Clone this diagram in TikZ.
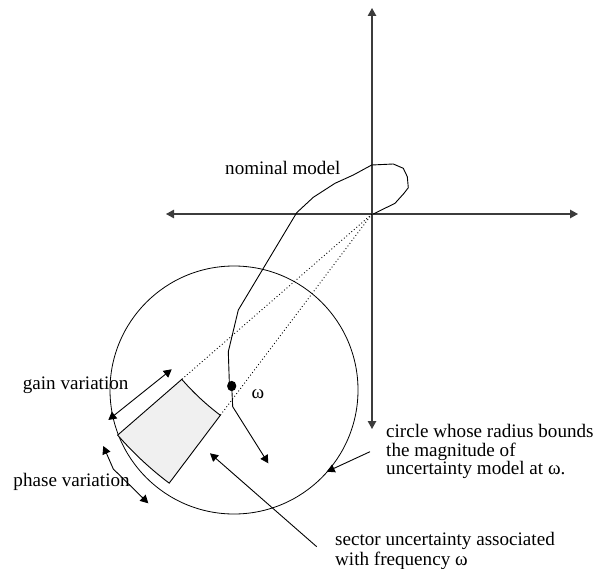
\documentclass[tikz,border=0pt]{standalone}
\usepackage{fontspec}
\setmainfont{Liberation Serif}
\usetikzlibrary{arrows.meta,calc}
\definecolor{sectorfill}{RGB}{240,240,240}
\definecolor{axiscol}{RGB}{60,60,60}
\begin{document}
\begin{tikzpicture}[x=1bp,y=-1bp,
  tip/.style={-{Triangle[length=8bp,width=8.5bp]}},
  dtip/.style={{Triangle[length=8bp,width=8.5bp]}-{Triangle[length=8bp,width=8.5bp]}},
  axisline/.style={draw=axiscol,line width=1.2bp,dtip},
  thin line/.style={draw=black,line width=0.9bp},
  label/.style={inner sep=0pt,font=\fontsize{19.1bp}{18.5bp}\selectfont},
  dotline/.style={draw=black,line width=0.9bp,dash pattern=on 0.9bp off 2.4bp}]
\useasboundingbox (0,0) rectangle (599,569);
% origin and axes
\coordinate (O) at (372,214);
\coordinate (xl) at (166,214);
\coordinate (xr) at (578,214);
\coordinate (yt) at (372,8);
\coordinate (yb) at (372,429);
\draw[axisline] (xl) -- (xr);
\draw[axisline] (yb) -- (yt);
% uncertainty circle
\coordinate (C) at (234,390);
\draw[line width=0.8bp] (C) circle[radius=124];
% sector uncertainty
\coordinate (sA) at ($(O)+(139:252)$);
\coordinate (sB) at ($(O)+(127:252)$);
\filldraw[fill=sectorfill,draw=black,line width=0.9bp]
  (sA) -- ($(O)+(139:337)$) arc[start angle=139,end angle=127,radius=337]
  -- (sB) arc[start angle=127,end angle=139,radius=252] -- cycle;
\draw[dotline] (O) -- (sA);
\draw[dotline] (O) -- (sB);
% nominal model curve
\coordinate (w) at (231.7,386);
\coordinate (cend) at (268.3,463.3);
\draw[thin line,line join=round,tip] (373.3,214) -- (395,203.3) -- (404,193.3) -- (408.3,187.7)
  -- (407.3,176.7) -- (403.3,168.3) -- (393.3,164) -- (371.7,165) -- (353.3,175)
  -- (335,183.3) -- (313.3,197.3) -- (296.7,212.7) -- (238.3,310) -- (228.3,351.7)
  -- (229.3,381.7) -- (w) -- (232.7,406.7) -- (cend);
\fill (w) ellipse[x radius=4.6,y radius=5.2];
% gain and phase variation arrows
\coordinate (g1) at (108.3,420);
\coordinate (g2) at (171.7,369.3);
\draw[thin line,dtip] (g1) -- (g2);
\coordinate (p1) at (103.3,446);
\coordinate (pk) at (113.3,469);
\coordinate (p2) at (148.3,503.3);
\draw[thin line,dtip] (p1) -- (pk) -- (p2);
% labels
\node[label,anchor=base west] (nom) at (225,175) {nominal model};
\node[label,anchor=base west] (gain) at (22.7,389) {gain variation};
\node[label,anchor=base west] (phase) at (13.3,486) {phase variation};
\node[label,anchor=base west] (om) at (251.5,398.3) {ω};
\node[label,anchor=north west,align=left] (circ) at (386,424.2)
  {circle whose radius bounds\\the magnitude of\\uncertainty model at ω.};
\node[label,anchor=north west,align=left,font=\fontsize{19.1bp}{20bp}\selectfont] (sect) at (335,532)
  {sector uncertainty associated\\with frequency ω};
% pointers
\coordinate (cp1) at (370,451.7);
\coordinate (cp2) at (326.7,471.7);
\draw[thin line,tip] (cp1) -- (cp2);
\coordinate (sp1) at (316.7,546.7);
\coordinate (sp2) at (210,453.3);
\draw[thin line,tip] (sp1) -- (sp2);
\end{tikzpicture}
\end{document}
